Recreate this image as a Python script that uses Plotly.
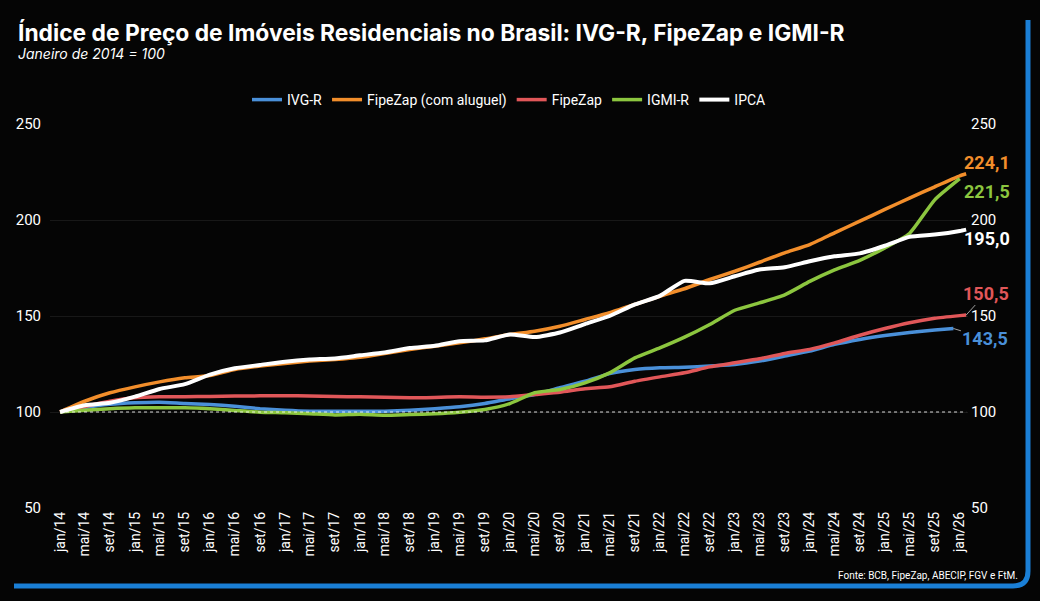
import pandas as pd
import plotly.graph_objects as go

# ---- data (every 4 months jan/14 .. jan/26) ----
grid = pd.date_range("2014-01-01", periods=37, freq="4MS")

ivgr = [100.0, 102.3, 104.0, 104.8, 105.1, 104.4, 103.9, 103.0, 101.7, 100.9, 100.4, 100.4, 100.4,
        100.4, 100.9, 101.7, 102.7, 104.4, 106.9, 109.1, 112.6, 116.0, 120.0, 122.1, 123.0, 123.3,
        123.9, 124.7, 126.5, 129.1, 131.7, 135.2, 137.8, 139.8, 141.4, 142.7]
ivgr_end = ("2025-12-01", 143.5)

fipezap_aluguel = [100.0, 105.6, 110.0, 113.1, 115.7, 117.8, 119.0, 122.1, 123.9, 125.3, 126.5, 127.3, 128.5,
                   130.5, 132.6, 134.3, 136.0, 138.1, 140.4, 142.1, 144.7, 148.2, 151.7, 156.0, 160.3, 164.2,
                   169.0, 173.3, 178.0, 182.9, 187.2, 193.3, 199.4, 205.5, 211.4, 217.3, 223.0]
fipezap_aluguel_end = ("2026-02-01", 224.1)

fipezap = [100.0, 102.9, 105.6, 107.4, 107.9, 108.0, 108.1, 108.3, 108.4, 108.5, 108.3, 108.1, 107.9,
           107.7, 107.4, 107.6, 107.9, 107.7, 107.9, 109.1, 110.3, 112.1, 113.1, 116.0, 118.3, 120.4,
           123.5, 125.6, 127.7, 130.5, 132.6, 136.0, 140.0, 143.5, 146.5, 148.8, 150.2]
fipezap_end = ("2026-02-01", 150.5)

igmir = [100.0, 100.9, 101.7, 102.2, 102.2, 102.2, 101.7, 100.8, 99.9, 99.6, 99.1, 98.5, 98.8,
         98.3, 98.7, 99.1, 99.9, 101.3, 104.4, 110.0, 111.7, 115.2, 120.4, 128.2, 133.4, 139.0,
         145.6, 153.0, 156.8, 161.0, 168.0, 174.0, 179.0, 185.5, 193.0, 210.5, 221.5]

ipca = [100.0, 103.5, 104.8, 108.0, 112.0, 114.5, 119.5, 122.8, 124.5, 126.2, 127.3, 127.9, 129.5,
        131.0, 133.3, 134.5, 136.9, 137.3, 140.4, 139.0, 141.4, 145.8, 150.0, 156.0, 160.5, 168.3,
        167.0, 170.7, 174.2, 175.4, 178.5, 181.1, 182.6, 186.6, 191.2, 192.4, 194.3]
ipca_end = ("2026-02-01", 195.0)

tick_labels = []
for d in grid:
    mon = {1: "jan", 5: "mai", 9: "set"}[d.month]
    tick_labels.append(f"{mon}/{str(d.year)[2:]}")

y_ticks = [50, 100, 150, 200, 250]

names = ["IVG-R", "FipeZap (com aluguel)", "FipeZap", "IGMI-R", "IPCA"]
colors = ["#4a90d9", "#f28e2b", "#e15759", "#8cc63f", "#ffffff"]

def series(vals, end=None):
    xs = [d.strftime("%Y-%m-%d") for d in grid[:len(vals)]]
    ys = list(vals)
    if end is not None:
        xs.append(end[0])
        ys.append(end[1])
    return xs, ys

data = [series(ivgr, ivgr_end), series(fipezap_aluguel, fipezap_aluguel_end),
        series(fipezap, fipezap_end), series(igmir), series(ipca, ipca_end)]

fig = go.Figure()
for (xs, ys), n, c in zip(data, names, colors):
    fig.add_trace(go.Scatter(x=xs, y=ys, name=n, mode="lines",
                             line=dict(color=c, width=3.5 if c != "#ffffff" else 4,
                                       shape="spline", smoothing=0.5)))
# invisible trace for the right axis
fig.add_trace(go.Scatter(x=[grid[0]], y=[100], yaxis="y2", showlegend=False,
                         mode="markers", marker=dict(opacity=0), hoverinfo="skip"))

# plot geometry in pixels
W, H = 1040, 601
L, R, T, B = 50, 968, 124, 508

def px(x):
    return (x - L) / (R - L)

def py(y):
    return (B - y) / (B - T)

FONT = "Roboto"
TFONT = "Inter"

fig.update_layout(
    width=W, height=H,
    margin=dict(l=L, r=W - R, t=T, b=H - B),
    paper_bgcolor="#050505", plot_bgcolor="rgba(0,0,0,0)",
    font=dict(family=FONT, color="white"),
    showlegend=True,
    legend=dict(orientation="h", x=0.5, xanchor="center", y=py(100), yanchor="middle",
                font=dict(size=14, color="white"), bgcolor="rgba(0,0,0,0)",
                itemwidth=30, tracegroupgap=0),
    xaxis=dict(range=["2013-11-13", "2026-02-10"], tickvals=[d.strftime("%Y-%m-%d") for d in grid],
               ticktext=tick_labels, tickangle=-90, tickfont=dict(size=14, color="white"),
               showgrid=False, zeroline=False, showline=False, ticks=""),
    yaxis=dict(range=[50, 250], tickvals=y_ticks, tickfont=dict(size=15, color="white"),
               showgrid=True, gridcolor="rgba(255,255,255,0.08)", gridwidth=1,
               zeroline=False, showline=False, ticks="", ticklabelstandoff=8),
    yaxis2=dict(range=[50, 250], tickvals=y_ticks, tickfont=dict(size=15, color="white"),
                overlaying="y", side="right", showgrid=False, zeroline=False, showline=False,
                ticks="", ticklabelstandoff=2),
)

# dotted base line at 100
fig.add_shape(type="line", xref="x", yref="y", x0="2014-01-01", x1="2026-02-01", y0=100, y1=100,
              line=dict(color="rgba(255,255,255,0.85)", width=1, dash="dot"))

# blue frame (right and bottom)
path = (f"M {px(1028)},{py(20)} L {px(1028)},{py(571)} "
        f"Q {px(1028)},{py(586)} {px(1013)},{py(586)} L {px(14)},{py(586)}")
fig.add_shape(type="path", xref="paper", yref="paper", path=path,
              line=dict(color="#1a7fd6", width=5))

# title / subtitle / source
fig.add_annotation(text="<b>Índice de Preço de Imóveis Residenciais no Brasil: IVG-R, FipeZap e IGMI-R</b>",
                   xref="paper", yref="paper", x=px(16), y=py(33), xanchor="left", yanchor="middle",
                   showarrow=False, font=dict(size=22.8, color="white", family=TFONT))
fig.add_annotation(text="<i>Janeiro de 2014 = 100</i>",
                   xref="paper", yref="paper", x=px(16), y=py(54), xanchor="left", yanchor="middle",
                   showarrow=False, font=dict(size=14, color="white", family=TFONT))
fig.add_annotation(text="Fonte: BCB, FipeZap, ABECIP, FGV e FtM.",
                   xref="paper", yref="paper", x=px(1020), y=py(575), xanchor="right", yanchor="middle",
                   showarrow=False, font=dict(size=10, color="white", family=FONT))

# end labels (anchored on the last data point, offset in pixels)
end_labels = [
    (fipezap_aluguel_end, colors[1], 21, -11, False),
    (("2026-01-01", igmir[-1]), colors[3], 27, 13, False),
    (ipca_end, colors[4], 21, 9, False),
    (fipezap_end, colors[2], 20, -22, True),
    (ivgr_end, colors[0], 32, 10, True),
]
for (xd, val), c, ax, ay, conn in end_labels:
    fig.add_annotation(x=xd, y=val, xref="x", yref="y", text=f"<b>{val:.1f}</b>".replace(".", ","),
                       showarrow=True, ax=ax, ay=ay, axref="pixel", ayref="pixel",
                       arrowhead=0, arrowwidth=1,
                       arrowcolor="rgba(200,200,200,0.8)" if conn else "rgba(0,0,0,0)",
                       xanchor="center", yanchor="middle",
                       font=dict(size=18, color=c, family=FONT))

fig.write_html("out.html")
